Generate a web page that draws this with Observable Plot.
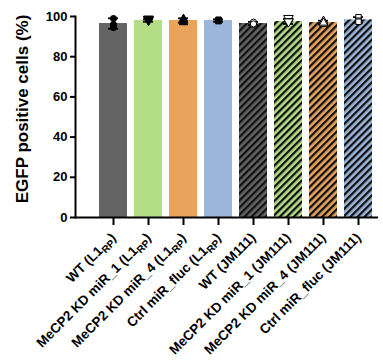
<!DOCTYPE html>
<html>
<head>
<meta charset="utf-8">
<script src="https://cdn.jsdelivr.net/npm/d3@7"></script>
<script src="https://cdn.jsdelivr.net/npm/@observablehq/plot@0.6"></script>
<style>
  html, body { margin: 0; padding: 0; background: #fff; }
  #chart svg { display: block; }
</style>
</head>
<body>
<div id="chart"></div>
<script>
// ---- data ----
const categories = [
  "WT (L1{RP})",
  "MeCP2 KD miR_1 (L1{RP})",
  "MeCP2 KD miR_4 (L1{RP})",
  "Ctrl miR_fluc (L1{RP})",
  "WT (JM111)",
  "MeCP2 KD miR_1 (JM111)",
  "MeCP2 KD miR_4 (JM111)",
  "Ctrl miR_fluc (JM111)"
];
const means = [96.5, 98.0, 98.0, 98.0, 96.5, 97.5, 97.0, 98.3];
const errors = [2.6, 0.6, 1.1, 0.6, 0.8, 1.2, 0.9, 1.4];
const replicates = [
  [99.0, 94.5, 96.0],
  [98.3, 97.6, 98.1],
  [98.8, 97.1, 98.1],
  [98.4, 97.7, 97.9],
  [97.2, 96.0, 96.3],
  [98.6, 97.0, 96.9],
  [97.8, 96.3, 96.9],
  [99.6, 97.9, 97.4]
];
const baseColors = ["#646464", "#b4de86", "#e9a35c", "#9bb6da", "#646464", "#b4de86", "#e9a35c", "#9bb6da"];
const hatched = [false, false, false, false, true, true, true, true];
const symbols = ["circle", "down", "triangle", "square", "circle", "down", "triangle", "square"];
const openMarker = [false, false, false, false, true, true, true, true];
const yTicks = [0, 20, 40, 60, 80, 100];
const yLabel = "EGFP positive cells (%)";

// ---- build tables ----
const bars = categories.map((c, i) => ({
  cat: c, mean: means[i], err: errors[i],
  fill: hatched[i] ? `url(#hatch${i})` : baseColors[i]
}));
const downTriangle = {
  draw(context, size) {
    const r = Math.sqrt(size / 1.3);
    context.moveTo(-r, -r * 0.8);
    context.lineTo(r, -r * 0.8);
    context.lineTo(0, r * 0.9);
    context.closePath();
  }
};
const symbolMap = {circle: d3.symbolCircle, triangle: d3.symbolTriangle, square: d3.symbolSquare, down: downTriangle};
const points = replicates.flatMap((vals, i) => vals.map(v => ({
  cat: categories[i], v, sym: symbolMap[symbols[i]], open: openMarker[i]
})));

const font = "'Liberation Sans', Arial, sans-serif";

function defsMark() {
  const defs = d3.create("svg:defs");
  categories.forEach((c, i) => {
    if (!hatched[i]) return;
    const p = defs.append("pattern")
      .attr("id", `hatch${i}`)
      .attr("patternUnits", "userSpaceOnUse")
      .attr("width", 5).attr("height", 5)
      .attr("patternTransform", "rotate(45)");
    p.append("rect").attr("width", 5).attr("height", 5).attr("fill", baseColors[i]);
    p.append("rect").attr("x", 0).attr("y", 0).attr("width", 2.3).attr("height", 5).attr("fill", "#111");
  });
  return defs.node();
}

const chart = Plot.plot({
  width: 383,
  height: 360,
  marginLeft: 75,
  marginRight: 5,
  marginTop: 16,
  marginBottom: 143,
  style: {fontFamily: font, fontWeight: "bold", background: "#fff", color: "#000"},
  x: {type: "band", domain: categories, range: [93.3, 376.7], paddingInner: 0.21, paddingOuter: 0.105, axis: null},
  y: {domain: [0, 100], axis: null},
  marks: [
    defsMark,
    Plot.barY(bars, {x: "cat", y: "mean", fill: "fill"}),
    Plot.ruleX(bars, {x: "cat", y1: d => d.mean - d.err, y2: d => d.mean + d.err, stroke: "#000", strokeWidth: 1.8}),
    Plot.tickY(bars, {x: "cat", y: d => d.mean + d.err, stroke: "#000", strokeWidth: 1.8, insetLeft: 9, insetRight: 9}),
    Plot.tickY(bars, {x: "cat", y: d => d.mean - d.err, stroke: "#000", strokeWidth: 1.8, insetLeft: 9, insetRight: 9}),
    Plot.dot(points, {x: "cat", y: "v", symbol: "sym", r: 3.1, fill: d => d.open ? "#fff" : "#000", stroke: "#000", strokeWidth: 1}),
    Plot.axisY({ticks: yTicks, tickSize: 5, tickPadding: 3, strokeWidth: 2, fontSize: 13, fontWeight: "bold", label: null}),
    Plot.axisX({tickSize: 8, tickPadding: 10, strokeWidth: 2, fontSize: 13.5, fontWeight: "bold", tickRotate: -45, label: null}),
    Plot.ruleY([0], {stroke: "#000", strokeWidth: 2}),
    Plot.frame({anchor: "left", stroke: "#000", strokeWidth: 2}),
    Plot.text([yLabel], {frameAnchor: "left", textAnchor: "middle", dx: -53, dy: -8, rotate: -90, fontSize: 17, fontWeight: "bold", fill: "#000"})
  ]
});

// subscript handling in tick labels
d3.select(chart).selectAll("text").each(function() {
  const t = this.textContent;
  if (!t.includes("{")) return;
  const sel = d3.select(this);
  sel.text(null);
  const parts = t.split(/(\{[^}]*\})/).filter(s => s.length);
  parts.forEach(s => {
    if (s.startsWith("{")) {
      sel.append("tspan").attr("font-size", "10").attr("dy", "3").text(s.slice(1, -1));
    } else {
      const span = sel.append("tspan").text(s);
      if (sel.selectAll("tspan").size() > 1) span.attr("dy", "-3");
    }
  });
});

document.getElementById("chart").appendChild(chart);
</script>
</body>
</html>
